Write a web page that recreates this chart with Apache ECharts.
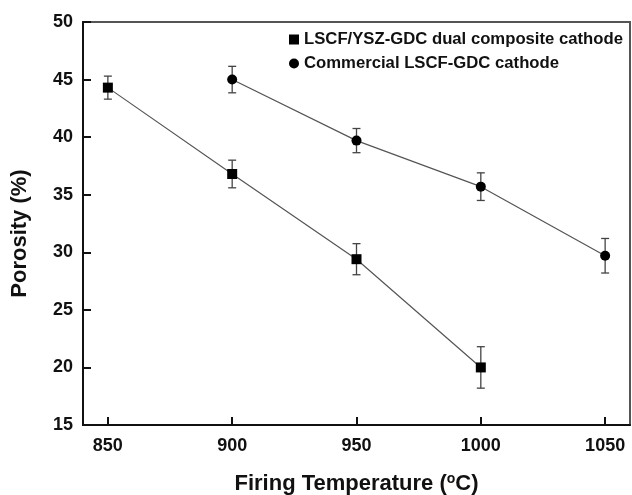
<!DOCTYPE html>
<html><head><meta charset="utf-8">
<script src="https://cdn.jsdelivr.net/npm/echarts@6/dist/echarts.min.js"></script>
<style>html,body{margin:0;padding:0;background:#fff}#c{width:632px;height:495px}</style>
</head><body><div id="c"></div>
<script>
const temps1 = [850, 900, 950, 1000];
const porosity1 = [44.3, 36.8, 29.4, 20.0];
const err1 = [1.0, 1.2, 1.35, 1.8];
const temps2 = [900, 950, 1000, 1050];
const porosity2 = [45.0, 39.7, 35.7, 29.7];
const err2 = [1.15, 1.05, 1.2, 1.5];
const xTicks = [850, 900, 950, 1000, 1050];
const name1 = 'LSCF/YSZ-GDC dual composite cathode';
const name2 = 'Commercial LSCF-GDC cathode';

const font = 'Liberation Sans, Arial, sans-serif';
function errData(xs, ys, es){ return xs.map((x,i)=>[x, ys[i]-es[i], ys[i]+es[i]]); }
function renderErr(params, api){
  const x = api.value(0);
  const lo = api.coord([x, api.value(1)]);
  const hi = api.coord([x, api.value(2)]);
  const w = 4;
  const st = {stroke:'#444', lineWidth:1.3};
  return {type:'group', children:[
    {type:'line', shape:{x1:lo[0],y1:lo[1],x2:hi[0],y2:hi[1]}, style:st},
    {type:'line', shape:{x1:lo[0]-w,y1:lo[1],x2:lo[0]+w,y2:lo[1]}, style:st},
    {type:'line', shape:{x1:hi[0]-w,y1:hi[1],x2:hi[0]+w,y2:hi[1]}, style:st}
  ]};
}
const chart = echarts.init(document.getElementById('c'));
chart.setOption({
  animation:false,
  backgroundColor:'#fff',
  grid:{left:83, top:22, right:2, bottom:70, show:true, borderColor:'#555', borderWidth:2,
    containLabel:false, outerBoundsMode:'none'},
  legend:{
    orient:'vertical', left:284, top:26, itemWidth:10, itemHeight:10, itemGap:7,
    textStyle:{fontFamily:font, fontWeight:'bold', fontSize:16.7, color:'#111', lineHeight:16},
    data:[{name:name1, icon:'rect'},{name:name2, icon:'circle'}]
  },
  xAxis:{
    type:'value', min:840, max:1060,
    name:'Firing Temperature ({sup|o}C)', nameLocation:'middle', nameGap:47,
    nameTextStyle:{fontFamily:font, fontWeight:'bold', fontSize:22, color:'#111',
      rich:{sup:{fontFamily:font, fontWeight:'bold', fontSize:14, verticalAlign:'top', padding:[0,0,9,0], color:'#111'}}},
    axisLine:{lineStyle:{color:'#111', width:2}},
    axisTick:{inside:true, length:8, lineStyle:{color:'#111', width:2}, customValues:xTicks},
    axisLabel:{fontFamily:font, fontWeight:'bold', fontSize:18, color:'#111', margin:12, customValues:xTicks,
      formatter:v=>String(v)},
    splitLine:{show:false}
  },
  yAxis:{
    type:'value', min:15, max:50, interval:5,
    name:'Porosity (%)', nameLocation:'middle', nameGap:52,
    nameTextStyle:{fontFamily:font, fontWeight:'bold', fontSize:22, color:'#111', padding:[0,20,0,0]},
    axisLine:{show:true, lineStyle:{color:'#111', width:2}},
    axisTick:{show:true, inside:true, length:8, lineStyle:{color:'#111', width:2}},
    axisLabel:{fontFamily:font, fontWeight:'bold', fontSize:18, color:'#111', margin:10},
    splitLine:{show:false}
  },
  series:[
    {type:'custom', renderItem:renderErr, data:errData(temps1, porosity1, err1), z:2, silent:true},
    {type:'custom', renderItem:renderErr, data:errData(temps2, porosity2, err2), z:2, silent:true},
    {name:name1, type:'line', data:temps1.map((x,i)=>[x, porosity1[i]]), symbol:'rect', symbolSize:10,
      itemStyle:{color:'#000'}, lineStyle:{color:'#555', width:1.2}, z:3},
    {name:name2, type:'line', data:temps2.map((x,i)=>[x, porosity2[i]]), symbol:'circle', symbolSize:10,
      itemStyle:{color:'#000'}, lineStyle:{color:'#555', width:1.2}, z:3}
  ]
});
</script></body></html>
